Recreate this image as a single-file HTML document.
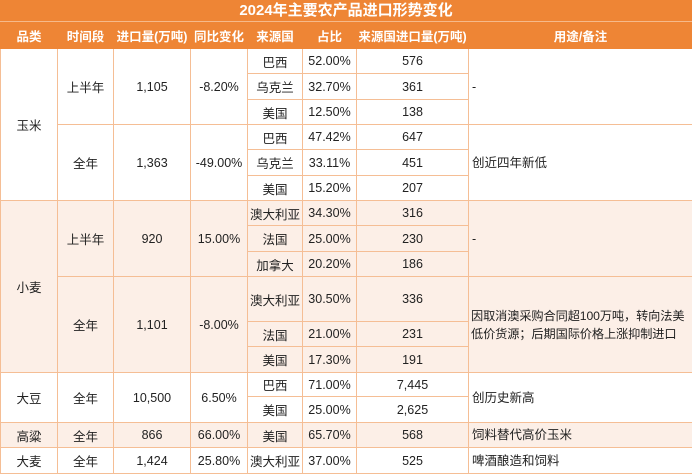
<!DOCTYPE html>
<html><head><meta charset="utf-8"><style>
body{margin:0;width:692px;height:473px;overflow:hidden;background:#fff;font-family:"Liberation Sans","Noto Sans CJK SC",sans-serif;}
.title{height:22px;background:#EE8535;color:#fff;font-weight:bold;font-size:15px;text-align:center;line-height:22px;border-bottom:1px solid #F6B98A;box-sizing:border-box;}
table{border-collapse:collapse;table-layout:fixed;width:692px;}
td,th{border:1px solid #F5BE95;padding:0;text-align:center;font-size:12.5px;color:#222;overflow:hidden;white-space:nowrap;}
th{background:#EE8535;color:#fff;font-size:12.5px;font-weight:bold;height:26px;border-color:#EE8535;}
tr.l td{background:#FCEFE7;}
td.n{text-align:left;padding-left:3px;line-height:18px;}
td.s{font-size:12.2px;padding-left:2px;letter-spacing:-0.1px;}
table tr:first-child th{border-top:none;}
</style></head><body>
<div class="title">2024年主要农产品进口形势变化</div>
<table>
<colgroup><col style="width:57px"><col style="width:56px"><col style="width:77px"><col style="width:57px"><col style="width:55px"><col style="width:54px"><col style="width:112px"><col style="width:224px"></colgroup>
<tr><th>品类</th><th>时间段</th><th>进口量(万吨)</th><th>同比变化</th><th>来源国</th><th>占比</th><th>来源国进口量(万吨)</th><th>用途/备注</th></tr>
<tr style="height:25px"><td rowspan="6">玉米</td><td rowspan="3">上半年</td><td rowspan="3">1,105</td><td rowspan="3">-8.20%</td><td>巴西</td><td>52.00%</td><td>576</td><td rowspan="3" class="n">-</td></tr>
<tr style="height:26px"><td>乌克兰</td><td>32.70%</td><td>361</td></tr>
<tr style="height:25px"><td>美国</td><td>12.50%</td><td>138</td></tr>
<tr style="height:25px"><td rowspan="3">全年</td><td rowspan="3">1,363</td><td rowspan="3">-49.00%</td><td>巴西</td><td>47.42%</td><td>647</td><td rowspan="3" class="n">创近四年新低</td></tr>
<tr style="height:26px"><td>乌克兰</td><td>33.11%</td><td>451</td></tr>
<tr style="height:25px"><td>美国</td><td>15.20%</td><td>207</td></tr>
<tr class="l" style="height:25px"><td rowspan="6">小麦</td><td rowspan="3">上半年</td><td rowspan="3">920</td><td rowspan="3">15.00%</td><td>澳大利亚</td><td>34.30%</td><td>316</td><td rowspan="3" class="n">-</td></tr>
<tr class="l" style="height:26px"><td>法国</td><td>25.00%</td><td>230</td></tr>
<tr class="l" style="height:25px"><td>加拿大</td><td>20.20%</td><td>186</td></tr>
<tr class="l" style="height:45px"><td rowspan="3">全年</td><td rowspan="3">1,101</td><td rowspan="3">-8.00%</td><td>澳大利亚</td><td>30.50%</td><td>336</td><td rowspan="3" class="n s">因取消澳采购合同超100万吨，转向法美<br>低价货源；后期国际价格上涨抑制进口</td></tr>
<tr class="l" style="height:25px"><td>法国</td><td>21.00%</td><td>231</td></tr>
<tr class="l" style="height:26px"><td>美国</td><td>17.30%</td><td>191</td></tr>
<tr style="height:24px"><td rowspan="2">大豆</td><td rowspan="2">全年</td><td rowspan="2">10,500</td><td rowspan="2">6.50%</td><td>巴西</td><td>71.00%</td><td>7,445</td><td rowspan="2" class="n">创历史新高</td></tr>
<tr style="height:26px"><td>美国</td><td>25.00%</td><td>2,625</td></tr>
<tr class="l" style="height:25px"><td>高粱</td><td>全年</td><td>866</td><td>66.00%</td><td>美国</td><td>65.70%</td><td>568</td><td class="n">饲料替代高价玉米</td></tr>
<tr style="height:26px"><td>大麦</td><td>全年</td><td>1,424</td><td>25.80%</td><td>澳大利亚</td><td>37.00%</td><td>525</td><td class="n">啤酒酿造和饲料</td></tr>
</table>
</body></html>
